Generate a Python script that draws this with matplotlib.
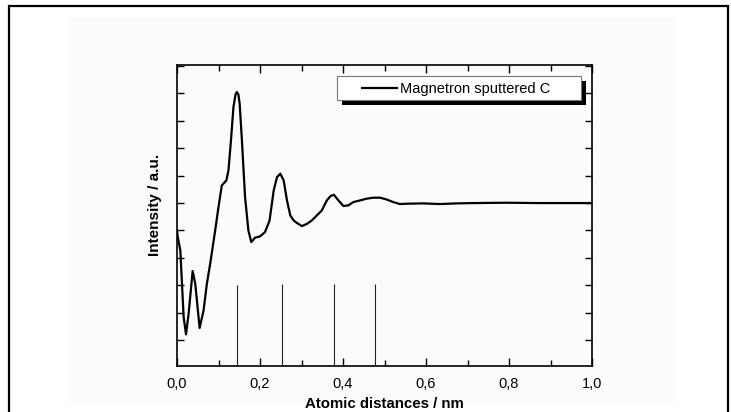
import matplotlib
matplotlib.use("Agg")
from matplotlib import pyplot as plt
from matplotlib.patches import Rectangle
from matplotlib.lines import Line2D
from matplotlib.ticker import MultipleLocator, FuncFormatter

plt.rcParams['font.family'] = ['Liberation Sans', 'DejaVu Sans']

# radial distribution curve
r_nm = [0.0, 0.0016, 0.008, 0.016, 0.0217, 0.028, 0.0377, 0.044, 0.0545, 0.064,
        0.072, 0.080, 0.092, 0.100, 0.108, 0.119, 0.124, 0.130, 0.136, 0.141,
        0.144, 0.148, 0.151, 0.156, 0.164, 0.172, 0.179, 0.188, 0.200, 0.212,
        0.223, 0.233, 0.241, 0.249, 0.257, 0.265, 0.273, 0.281, 0.289, 0.301,
        0.313, 0.325, 0.337, 0.349, 0.361, 0.370, 0.378, 0.389, 0.401, 0.413,
        0.425, 0.441, 0.457, 0.473, 0.489, 0.505, 0.521, 0.537, 0.553, 0.593,
        0.634, 0.674, 0.714, 0.794, 0.874, 1.0]
intensity = [0.75, 0.696, 0.568, -0.04, -0.198, -0.01, 0.38, 0.264, -0.14, 0.02,
             0.264, 0.447, 0.75, 0.964, 1.161, 1.207, 1.298, 1.57, 1.876, 1.99,
             2.013, 1.99, 1.906, 1.60, 1.055, 0.75, 0.644, 0.684, 0.696, 0.735,
             0.84, 1.116, 1.237, 1.268, 1.207, 1.024, 0.887, 0.842, 0.818, 0.79,
             0.81, 0.842, 0.887, 0.933, 1.024, 1.064, 1.076, 1.024, 0.973, 0.979,
             1.009, 1.024, 1.04, 1.049, 1.049, 1.033, 1.009, 0.991, 0.994, 0.997,
             0.991, 0.997, 1.0, 1.003, 1.0, 1.0]

# reference distances (stick marks)
stick_pos = [0.144, 0.253, 0.378, 0.478]
stick_top = [0.25, 0.26, 0.26, 0.26]

legend_label = 'Magnetron sputtered C'

fig = plt.figure(figsize=(7.31, 4.12), dpi=100)
W, H = 731, 412


def fx(px):
    return px / W


def fy(py):
    return (H - py) / H


# faint background panel behind the plot, and the outer frame
fig.patches.append(Rectangle((fx(67), fy(403)), fx(677 - 67), (403 - 17) / H,
                             transform=fig.transFigure, facecolor='#fbfbfb',
                             edgecolor='none', zorder=-5))
fig.patches.append(Rectangle((fx(9), -0.05), fx(728 - 9), (H - 6) / H + 0.05,
                             transform=fig.transFigure, fill=False,
                             edgecolor='black', linewidth=1.6, zorder=-4))

ax = fig.add_axes([fx(177), fy(366), fx(592 - 177), (366 - 65) / H])
ax.set_facecolor('#fbfbfb')

ax.plot(r_nm, intensity, color='black', linewidth=1.6)
ymin = -0.487
ax.vlines(stick_pos, ymin, stick_top, color='#222222', linewidth=0.8)

ax.set_xlim(0, 1.0)
ax.set_ylim(ymin, 2.26)

ax.xaxis.set_major_locator(MultipleLocator(0.2))
ax.xaxis.set_minor_locator(MultipleLocator(0.1))
ax.yaxis.set_major_locator(MultipleLocator(0.5))
ax.yaxis.set_minor_locator(MultipleLocator(0.25))
ax.xaxis.set_major_formatter(FuncFormatter(lambda v, p: f'{v:.1f}'.replace('.', ',')))
ax.set_yticklabels([])
ax.tick_params(which='both', direction='in', top=True, right=True, width=1.0)
ax.tick_params(which='major', length=6, labelsize=10.5, pad=8)
ax.tick_params(which='minor', length=4)
ax.tick_params(axis='y', which='both', length=5)
for s in ax.spines.values():
    s.set_linewidth(1.2)

ax.set_xlabel('Atomic distances / nm', fontsize=10.8, fontweight='bold', labelpad=4)
ax.set_ylabel('Intensity / a.u.', fontsize=11, fontweight='bold')
ax.yaxis.set_label_coords(-0.036, 0.535)

# legend box drawn like the original: white box, grey rim, solid black drop shadow
lx0, lx1, ly0, ly1 = 337, 581, 76, 100
fig.patches.append(Rectangle((fx(lx0 + 5), fy(ly1 + 5)), fx(lx1 - lx0), (ly1 - ly0) / H,
                             transform=fig.transFigure, facecolor='black',
                             edgecolor='none', zorder=5))
fig.patches.append(Rectangle((fx(lx0), fy(ly1)), fx(lx1 - lx0), (ly1 - ly0) / H,
                             transform=fig.transFigure, facecolor='white',
                             edgecolor='#777777', linewidth=0.8, zorder=6))
fig.lines.append(Line2D([fx(362), fx(397)], [fy(88), fy(88)], transform=fig.transFigure,
                        color='black', linewidth=1.6, zorder=7))
fig.text(fx(400), fy(88.5), legend_label, fontsize=10.5, va='center', ha='left', zorder=7)

fig.savefig('out.png', dpi=100)
